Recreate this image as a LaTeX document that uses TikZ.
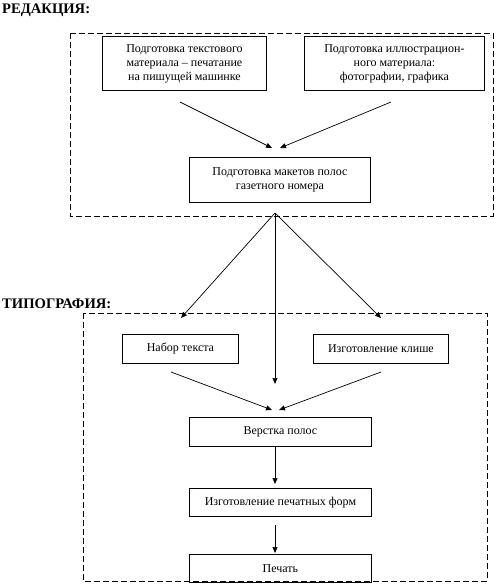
\documentclass[tikz,border=0pt]{standalone}
\usepackage{fontspec}
\setmainfont{Liberation Serif}
\usetikzlibrary{arrows.meta}
\begin{document}
\begin{tikzpicture}[x=1pt,y=-1pt,
  box/.style={draw,line width=0.9pt,inner sep=0pt,anchor=north west,align=center,
    font=\fontsize{12}{14}\selectfont},
  frame/.style={draw,line width=0.9pt,dash pattern=on 6pt off 3pt},
  head/.style={font=\fontsize{14.6}{16}\selectfont\bfseries,anchor=base west,inner sep=0pt},
  arr/.style={line width=0.7pt,-{Triangle[length=6pt,width=5pt]}}]
\useasboundingbox (0,0) rectangle (496,587);
\fill[white] (0,0) rectangle (496,587);
% headings
\node[head] (h1) at (2,13) {РЕДАКЦИЯ:};
\node[head] (h2) at (2,308) {ТИПОГРАФИЯ:};
% frames
\draw[frame] (70,33) rectangle (493,216);
\draw[frame] (83,313) rectangle (487,581);
% boxes
\node[box,minimum width=164pt,minimum height=54pt] (A) at (102,36)
  {Подготовка текстового\\материала – печатание\\на пишущей машинке};
\node[box,minimum width=180pt,minimum height=54pt] (B) at (304,36)
  {Подготовка иллюстрацион-\\ного материала:\\фотографии, графика};
\node[box,minimum width=181pt,minimum height=45pt] (C) at (189,157)
  {Подготовка макетов полос\\газетного номера};
\node[box,minimum width=116pt,minimum height=29pt] (D) at (122,334) {Набор текста};
\node[box,minimum width=135pt,minimum height=29pt] (E) at (313,334) {Изготовление клише};
\node[box,minimum width=182pt,minimum height=29pt] (F) at (189,417) {Верстка полос};
\node[box,minimum width=182pt,minimum height=28pt] (G) at (189,488) {Изготовление печатных форм};
\node[box,minimum width=182pt,minimum height=28pt] (H) at (189,554) {Печать};
% connector end points
\coordinate (a1) at (180,102);
\coordinate (a2) at (272,148);
\coordinate (b1) at (391,102);
\coordinate (b2) at (280,148);
\coordinate (c0) at (275,213);
\coordinate (cl) at (181,318);
\coordinate (cm) at (275,384);
\coordinate (cr) at (381,318);
\coordinate (d1) at (171,372);
\coordinate (d2) at (272,410);
\coordinate (e1) at (381,372);
\coordinate (e2) at (279,410);
\coordinate (f1) at (275,446);
\coordinate (f2) at (275,484);
\coordinate (g1) at (275,525);
\coordinate (g2) at (275,553);
% connectors
\draw[arr] (a1) -- (a2);
\draw[arr] (b1) -- (b2);
\draw[arr] (c0) -- (cl);
\draw[arr] (c0) -- (cm);
\draw[arr] (c0) -- (cr);
\draw[arr] (d1) -- (d2);
\draw[arr] (e1) -- (e2);
\draw[arr] (f1) -- (f2);
\draw[arr] (g1) -- (g2);
\end{tikzpicture}
\end{document}
